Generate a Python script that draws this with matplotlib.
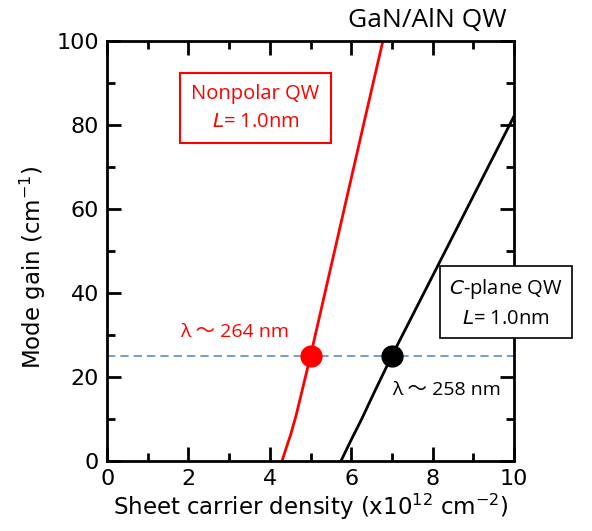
import numpy as np
import matplotlib
matplotlib.use('Agg')
import matplotlib.pyplot as plt

plt.rcParams['font.family'] = ['DejaVu Sans']
plt.rcParams['mathtext.default'] = 'regular'

# Nonpolar QW gain curve
nonpolar_n = [4.30, 4.40, 4.52, 4.65, 4.80, 5.00, 5.45, 5.90, 6.35, 6.78]
nonpolar_g = [0, 3, 6.5, 11, 17, 25, 44, 63, 82, 100]

# C-plane QW gain curve
cplane_n = [5.75, 6.00, 6.26, 6.60, 7.00, 7.50, 8.00, 8.50, 9.00, 9.50, 10.0]
cplane_g = [0, 5, 10, 17, 25, 34.5, 44, 53.5, 63, 72.5, 82]

# operating points at 25 cm^-1
point_n = [5.0, 7.0]
point_g = [25, 25]
point_colors = ['red', 'black']
threshold_gain = 25

label_font = ['Open Sans', 'DejaVu Sans']
lambda_font = ['Open Sans', 'Noto Sans CJK JP', 'DejaVu Sans']

fig = plt.figure(figsize=(5.92, 5.31), dpi=100)
ax = fig.add_axes([0.181, 0.132, 0.687, 0.791])

ax.axhline(threshold_gain, color='#5b8fd0', linestyle=(0, (5, 3)), linewidth=1.2, zorder=1)
ax.plot(nonpolar_n, nonpolar_g, color='red', linewidth=2, zorder=2)
ax.plot(cplane_n, cplane_g, color='black', linewidth=2, zorder=2)
for n, g, c in zip(point_n, point_g, point_colors):
    ax.plot(n, g, 'o', color=c, markersize=15, zorder=3)

ax.set_xlim(0, 10)
ax.set_ylim(0, 100)
ax.set_xticks(np.arange(0, 11, 2))
ax.set_yticks(np.arange(0, 101, 20))
ax.set_xticks(np.arange(0, 11, 1), minor=True)
ax.set_yticks(np.arange(0, 101, 10), minor=True)
ax.tick_params(which='both', direction='in', top=True, right=True, width=2)
ax.tick_params(which='major', length=10, labelsize=16, pad=6)
ax.tick_params(which='minor', length=6)
for s in ax.spines.values():
    s.set_linewidth(2)

ax.set_xlabel('Sheet carrier density (x10$^{12}$ cm$^{-2}$)', fontsize=16.5, labelpad=2)
ax.set_ylabel('Mode gain (cm$^{-1}$)', fontsize=16.5)
ax.yaxis.set_label_coords(-0.145, 0.46)

fig.text(0.721, 0.962, 'GaN/AlN QW', fontsize=19, ha='center', va='center', family=label_font)

ax.text(3.65, 84, 'Nonpolar QW\n$\\mathit{L}$= 1.0nm', color='red', fontsize=14.5,
        ha='center', va='center', linespacing=1.5, family=label_font,
        bbox=dict(boxstyle='square,pad=0.55', fc='white', ec='red', lw=1.5))
ax.text(9.8, 37.6, '$\\mathit{C}$-plane QW\n$\\mathit{L}$= 1.0nm', color='black', fontsize=14.5,
        ha='center', va='center', linespacing=1.5, clip_on=False, family=label_font,
        bbox=dict(boxstyle='square,pad=0.45', fc='white', ec='black', lw=1.2))

ax.text(3.14, 30.7, '\u03bb \u301c 264 nm', color='red', fontsize=14,
        ha='center', va='center', family=lambda_font)
ax.text(8.35, 16.9, '\u03bb \u301c 258 nm', color='black', fontsize=14,
        ha='center', va='center', family=lambda_font)

fig.savefig('out.png', dpi=100)
